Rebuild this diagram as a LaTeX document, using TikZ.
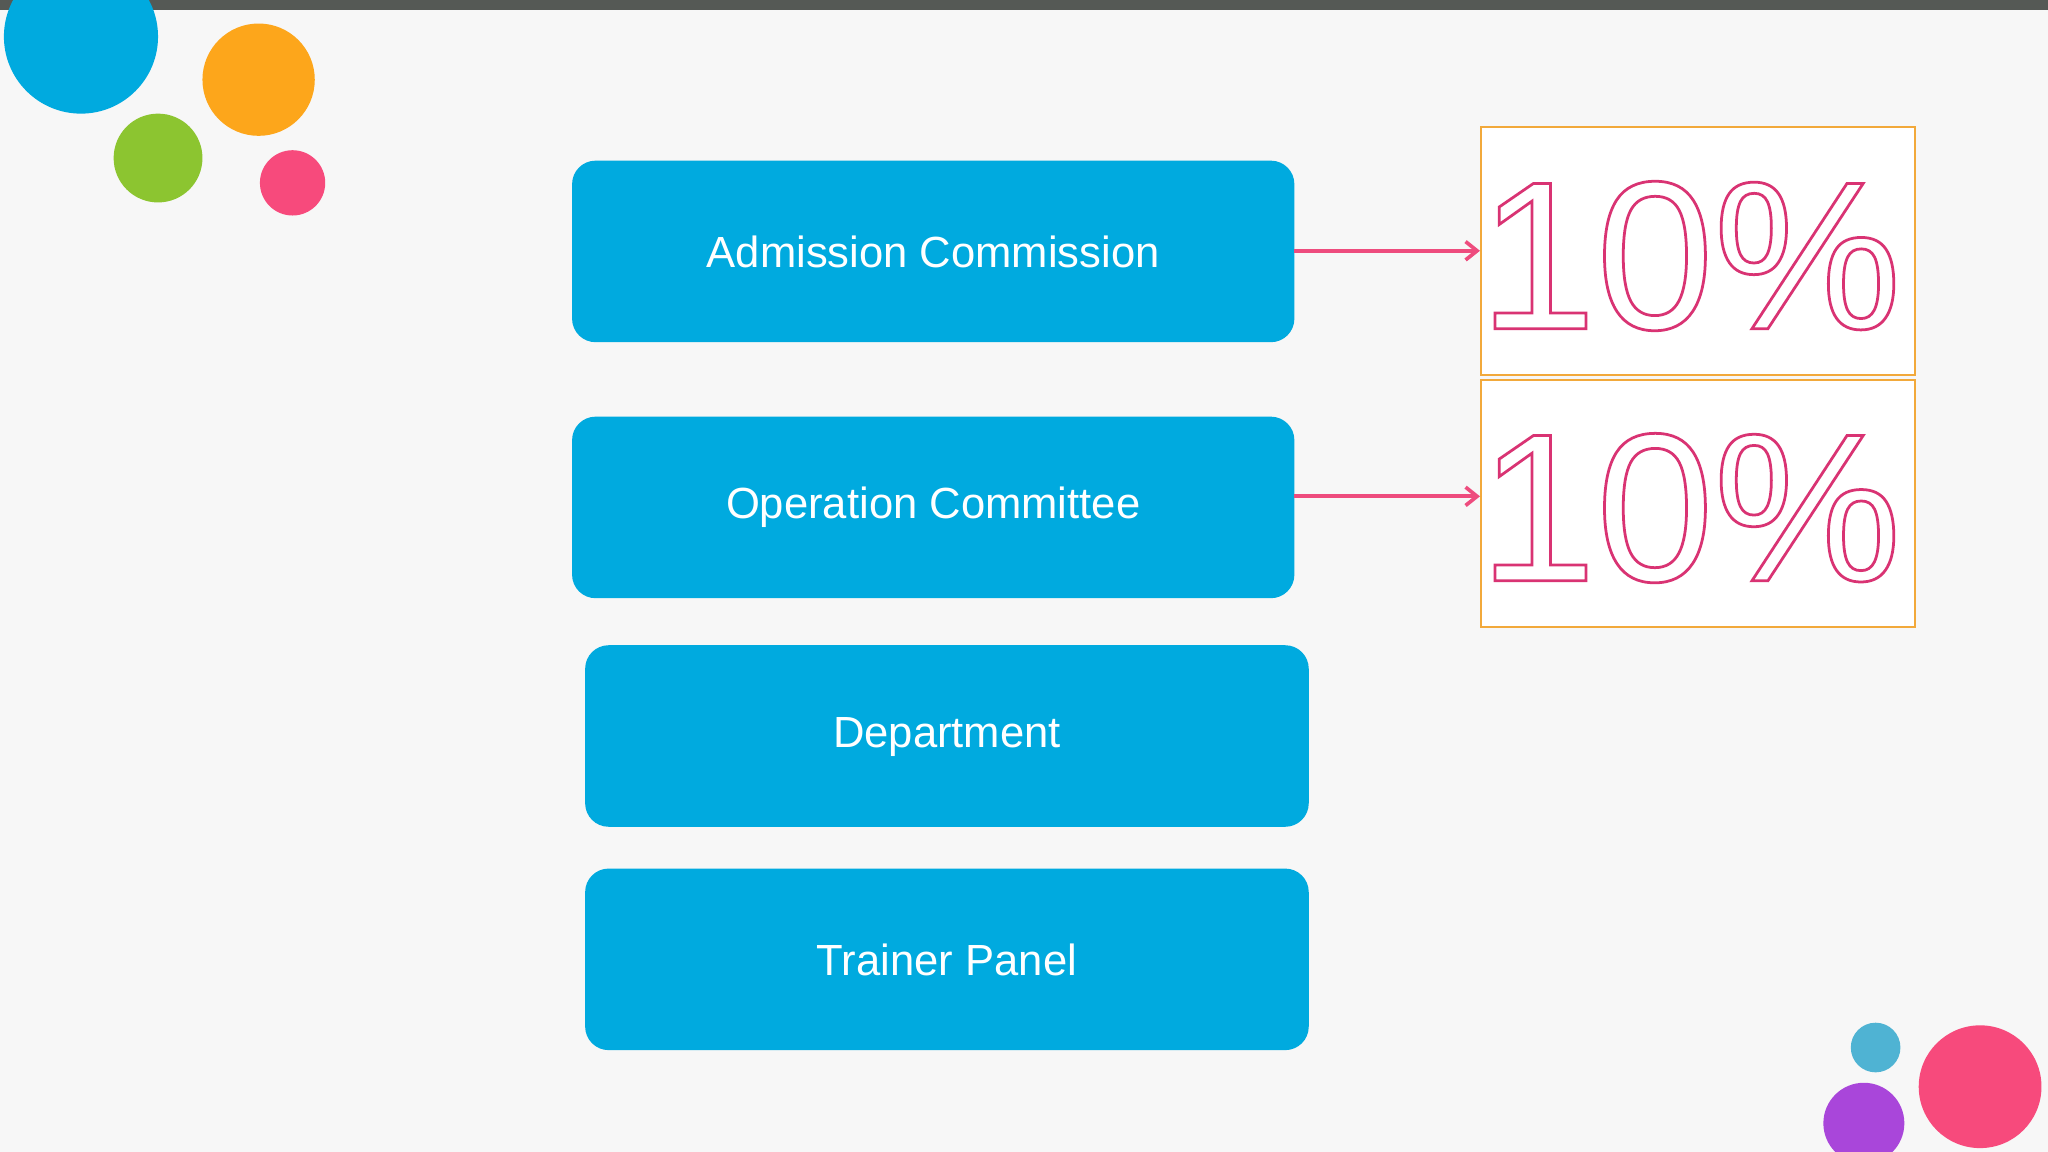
\documentclass[tikz,border=0pt]{standalone}
\usepackage{fontspec}
\setmainfont{Liberation Sans}
\usetikzlibrary{arrows.meta}
\definecolor{bg}{HTML}{F7F7F7}
\definecolor{bar}{HTML}{555955}
\definecolor{cblue}{HTML}{00AADF}
\definecolor{corange}{HTML}{FDA61B}
\definecolor{cgreen}{HTML}{8CC530}
\definecolor{cpink}{HTML}{F74A7C}
\definecolor{clblue}{HTML}{4FB3D3}
\definecolor{cpurple}{HTML}{A946DA}
\definecolor{frame}{HTML}{F2A93B}
\definecolor{arr}{HTML}{EE4C7E}
\tikzset{
 bluebox/.style={fill=cblue,rounded corners=0.36cm,text=white,font=\fontsize{19}{22}\selectfont},
 pctbox/.style={draw=frame,line width=1pt,fill=white},
 conn/.style={draw=arr,line width=1.6pt,-{Straight Barb[length=5pt,width=8pt]}},
 pct/.style={font=\fontsize{92}{100}\selectfont,inner sep=0pt}
}
\newcommand{\outl}[1]{\special{pdf:code q 1 Tr 0.85 0.2 0.45 RG 1.2 w}#1\special{pdf:code Q}}
\begin{document}
\begin{tikzpicture}[x=0.02cm,y=-0.02cm]
\fill[bg] (0,0) rectangle (1568,882);
\useasboundingbox (0,0) rectangle (1568,882);
\fill[bar] (0,0) rectangle (1568,8);
\fill[cblue] (62,28) circle (59);
\fill[corange] (198,61) circle (43);
\fill[cgreen] (121,121) circle (34);
\fill[cpink] (224,140) circle (25);
\fill[clblue] (1436,802) circle (19);
\fill[cpurple] (1427,860) circle (31);
\fill[cpink] (1516,832) circle (47);
\path[bluebox] (438,123) rectangle (991,262);
\node[text=white,font=\fontsize{19}{22}\selectfont] (a) at (714.5,192.5) {Admission Commission};
\path[bluebox] (438,319) rectangle (991,458);
\node[text=white,font=\fontsize{19}{22}\selectfont] (b) at (714.5,388.5) {Operation Committee};
\path[bluebox] (448,494) rectangle (1002,633);
\node[text=white,font=\fontsize{19}{22}\selectfont] (c) at (725,564) {Department};
\path[bluebox] (448,665) rectangle (1002,804);
\node[text=white,font=\fontsize{19}{22}\selectfont] (d) at (725,735) {Trainer Panel};
\node[pctbox,minimum width=332*0.02cm,minimum height=190*0.02cm] (p1) at (1300,192) {};
\node[pctbox,minimum width=332*0.02cm,minimum height=189*0.02cm] (p2) at (1300,385.5) {};
\node[pct] at (1294,196) {\outl{10\%}};
\node[pct] at (1294,389) {\outl{10\%}};
\coordinate (a1) at (991,192);
\coordinate (b1) at (991,380);
\draw[conn] (a1) -- (a1-|p1.west);
\draw[conn] (b1) -- (b1-|p2.west);
\end{tikzpicture}
\end{document}
